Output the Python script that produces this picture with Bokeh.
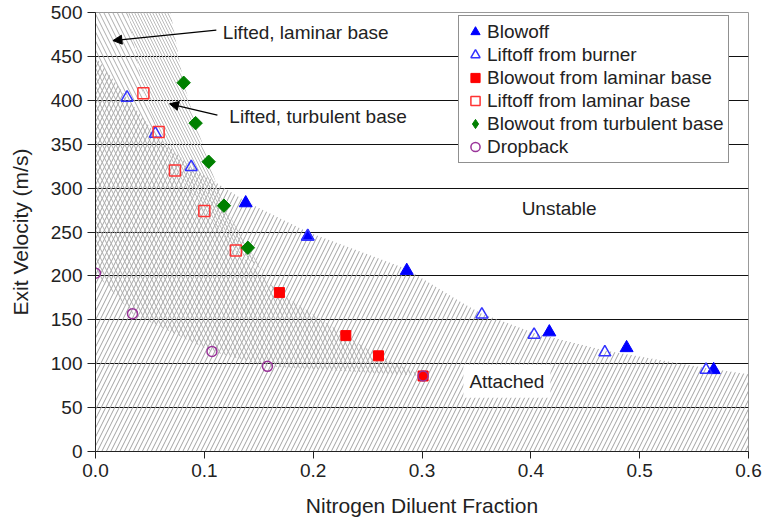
import math
from bokeh.plotting import figure
from bokeh.models import (Range1d, FixedTicker, PrintfTickFormatter, Label, Arrow,
                          NormalHead, LegendItem, Legend)
from bokeh.embed import file_html
from bokeh.resources import INLINE

# ---- data ----
blowoff_x = [0.138, 0.195, 0.286, 0.417, 0.488, 0.568]
blowoff_y = [283, 245, 206, 136, 118, 93]

liftoff_burner_x = [0.029, 0.055, 0.088, 0.195, 0.355, 0.403, 0.468, 0.561]
liftoff_burner_y = [403, 362, 324, 245, 156, 133, 113, 93]

blowout_lam_x = [0.169, 0.230, 0.260, 0.301]
blowout_lam_y = [181, 132, 109, 86]

liftoff_lam_x = [0.044, 0.058, 0.073, 0.100, 0.129]
liftoff_lam_y = [408, 364, 320, 274, 229]

blowout_turb_x = [0.081, 0.092, 0.104, 0.118, 0.140]
blowout_turb_y = [420, 374, 330, 280, 232]

dropback_x = [0.0, 0.034, 0.107, 0.158, 0.301]
dropback_y = [203, 157, 114, 97, 86]

# region boundaries (hatched zones)
attached_x = [0, 0, 0.029, 0.055, 0.088, 0.138, 0.195, 0.286, 0.336, 0.355, 0.403, 0.468, 0.561, 0.6, 0.6]
attached_y = [0, 450, 403, 362, 324, 285, 250, 208, 170, 157, 135, 115, 95, 88, 0]

laminar_x = [0, 0.03, 0.044, 0.058, 0.073, 0.100, 0.129, 0.169, 0.230, 0.260, 0.301, 0.158, 0.107, 0.034, 0]
laminar_y = [500, 500, 408, 364, 320, 274, 229, 181, 132, 109, 86, 97, 114, 157, 203]

turb_x = [0.03, 0.069, 0.081, 0.092, 0.104, 0.118, 0.140, 0.155, 0.129, 0.100, 0.073, 0.058, 0.044]
turb_y = [500, 500, 420, 374, 330, 280, 232, 205, 229, 274, 320, 364, 408]

x_ticks = [0.0, 0.1, 0.2, 0.3, 0.4, 0.5, 0.6]
y_ticks = [0, 50, 100, 150, 200, 250, 300, 350, 400, 450, 500]

FONT = "Liberation Sans"

p = figure(width=765, height=519, output_backend="svg", toolbar_location=None,
           x_range=Range1d(0, 0.6), y_range=Range1d(0, 500),
           min_border_left=95, min_border_right=17, min_border_top=12, min_border_bottom=67)
p.background_fill_color = "white"
p.border_fill_color = "white"
p.outline_line_color = "#999999"
p.outline_line_width = 1

# hatched regions
p.patch(attached_x, attached_y, fill_alpha=0, line_alpha=0,
        hatch_pattern="/", hatch_scale=9, hatch_color="#a2a2a2", hatch_weight=1)
p.patch(laminar_x, laminar_y, fill_alpha=0, line_alpha=0,
        hatch_pattern="\\", hatch_scale=9, hatch_color="#adadad", hatch_weight=1)
p.patch(turb_x, turb_y, fill_alpha=0, line_alpha=0,
        hatch_pattern="\\", hatch_scale=6, hatch_color="#bcbcbc", hatch_weight=1)

# markers
r1 = p.scatter(blowoff_x, blowoff_y, marker="triangle", size=13, fill_color="#0000FF",
               line_color="#0000FF")
r2 = p.scatter(liftoff_burner_x, liftoff_burner_y, marker="triangle", size=12, fill_color=None,
               line_color="#3333FF", line_width=1.5)
r3 = p.scatter(blowout_lam_x, blowout_lam_y, marker="square", size=10, fill_color="#FF0000",
               line_color="#FF0000")
r4 = p.scatter(liftoff_lam_x, liftoff_lam_y, marker="square", size=11, fill_color=None,
               line_color="#FF3333", line_width=1.5)
r5k = p.scatter(blowout_turb_x, blowout_turb_y, marker="diamond", size=12,
                fill_color="#008000", line_color="#008000")
r5 = p.scatter(blowout_turb_x, blowout_turb_y, marker="square", size=9.5, angle=math.pi / 4,
               fill_color="#008000", line_color="#008000")
r6 = p.scatter(dropback_x, dropback_y, marker="circle", size=10, fill_color=None,
               line_color="#993399", line_width=1.5)

# axes
p.xaxis.ticker = FixedTicker(ticks=x_ticks)
p.yaxis.ticker = FixedTicker(ticks=y_ticks)
p.xaxis.formatter = PrintfTickFormatter(format="%.1f")
p.xaxis.axis_label = "Nitrogen Diluent Fraction"
p.yaxis.axis_label = "Exit Velocity (m/s)"
for ax in (p.xaxis, p.yaxis):
    ax.axis_label_text_font = FONT
    ax.axis_label_text_font_size = "21px"
    ax.axis_label_text_font_style = "normal"
    ax.axis_label_text_color = "#222222"
    ax.major_label_text_font = FONT
    ax.major_label_text_font_size = "19px"
    ax.major_label_text_color = "#222222"
    ax.axis_line_color = "#222222"
    ax.major_tick_line_color = "#222222"
    ax.minor_tick_line_color = None
    ax.major_tick_in = 0
    ax.major_label_standoff = 5
p.xaxis.major_tick_out = 7
p.yaxis.major_tick_out = 8
p.xaxis.axis_label_standoff = 14
p.yaxis.axis_label_standoff = 16

p.xgrid.grid_line_color = None
p.ygrid.grid_line_color = "#111111"
p.ygrid.grid_line_width = 1

# annotations
p.add_layout(Arrow(end=NormalHead(size=9, fill_color="black", line_color="black"),
                   x_start=0.111, y_start=480, x_end=0.016, y_end=468,
                   line_color="black", line_width=1.3))
p.add_layout(Arrow(end=NormalHead(size=9, fill_color="black", line_color="black"),
                   x_start=0.112, y_start=383, x_end=0.068, y_end=396,
                   line_color="black", line_width=1.3))
p.add_layout(Label(x=0.117, y=477, text="Lifted, laminar base", text_font=FONT,
                   text_font_size="19px", text_baseline="middle", text_color="#222222",
                   background_fill_color="white"))
p.add_layout(Label(x=0.123, y=382, text="Lifted, turbulent base", text_font=FONT,
                   text_font_size="19px", text_baseline="middle", text_color="#222222",
                   background_fill_color="white"))
p.add_layout(Label(x=0.426, y=277, text="Unstable", text_font=FONT,
                   text_font_size="19px", text_baseline="middle", text_align="center",
                   text_color="#222222"))
p.add_layout(Label(x=0.378, y=80, text="Attached", text_font=FONT,
                   text_font_size="19px", text_baseline="middle", text_align="center",
                   text_color="#222222", background_fill_color="white", padding=6))

leg = Legend(items=[
    LegendItem(label="Blowoff", renderers=[r1]),
    LegendItem(label="Liftoff from burner", renderers=[r2]),
    LegendItem(label="Blowout from laminar base", renderers=[r3]),
    LegendItem(label="Liftoff from laminar base", renderers=[r4]),
    LegendItem(label="Blowout from turbulent base", renderers=[r5k]),
    LegendItem(label="Dropback", renderers=[r6]),
])
leg.location = (363, 288)
leg.label_text_font = FONT
leg.label_text_font_size = "19px"
leg.label_text_color = "#222222"
leg.border_line_color = "#222222"
leg.border_line_width = 1
leg.background_fill_alpha = 1
leg.padding = 4
leg.spacing = 0
leg.glyph_height = 23
leg.glyph_width = 24
leg.label_height = 23
leg.label_standoff = 0
leg.margin = 0
p.add_layout(leg, "center")

open("out.html", "w").write(file_html(p, INLINE))
